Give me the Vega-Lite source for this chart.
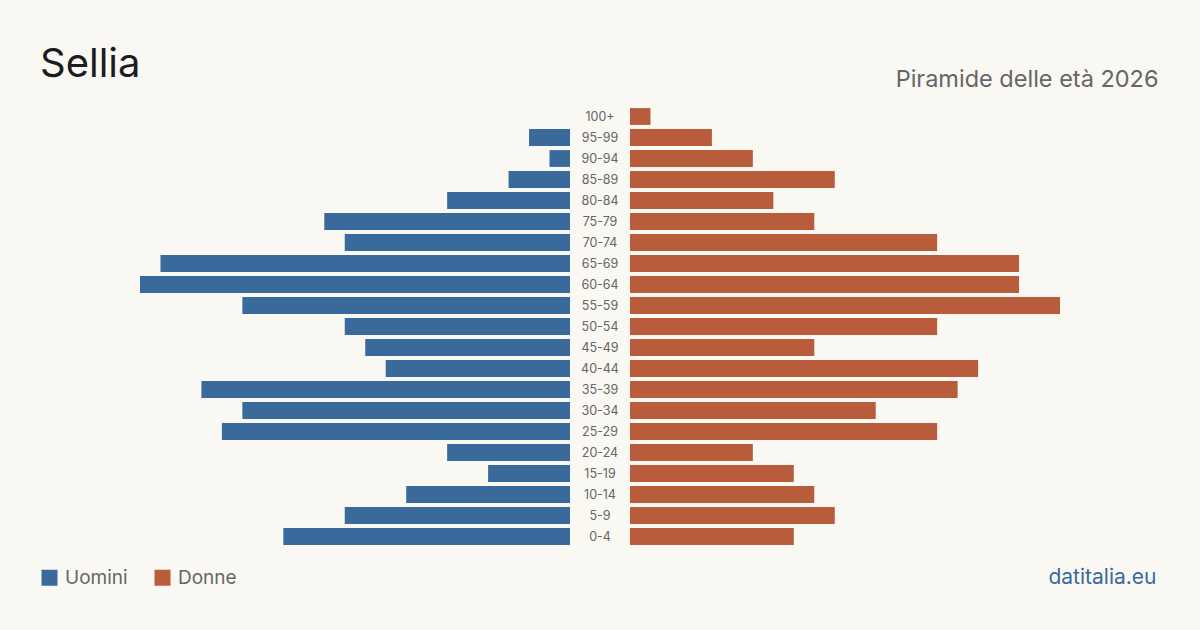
{
  "$schema": "https://vega.github.io/schema/vega-lite/v6.json",
  "autosize": {"type": "none"},
  "width": 920,
  "height": 441,
  "padding": {"left": 140, "right": 140, "top": 106, "bottom": 83},
  "background": "#f9f8f3",
  "config": {
    "view": {"stroke": null},
    "font": "Inter",
    "title": {"font": "Inter", "fontWeight": "normal"}
  },
  "title": {
    "text": "Sellia",
    "anchor": "start",
    "frame": "group",
    "fontSize": 40,
    "color": "#1c1c1c",
    "dx": -100,
    "dy": 50,
    "baseline": "alphabetic",
    "offset": 0
  },
  "data": {
    "values": [
      {"eta": "100+", "sesso": "Uomini", "valore": 0},
      {"eta": "95-99", "sesso": "Uomini", "valore": 2},
      {"eta": "90-94", "sesso": "Uomini", "valore": 1},
      {"eta": "85-89", "sesso": "Uomini", "valore": 3},
      {"eta": "80-84", "sesso": "Uomini", "valore": 6},
      {"eta": "75-79", "sesso": "Uomini", "valore": 12},
      {"eta": "70-74", "sesso": "Uomini", "valore": 11},
      {"eta": "65-69", "sesso": "Uomini", "valore": 20},
      {"eta": "60-64", "sesso": "Uomini", "valore": 21},
      {"eta": "55-59", "sesso": "Uomini", "valore": 16},
      {"eta": "50-54", "sesso": "Uomini", "valore": 11},
      {"eta": "45-49", "sesso": "Uomini", "valore": 10},
      {"eta": "40-44", "sesso": "Uomini", "valore": 9},
      {"eta": "35-39", "sesso": "Uomini", "valore": 18},
      {"eta": "30-34", "sesso": "Uomini", "valore": 16},
      {"eta": "25-29", "sesso": "Uomini", "valore": 17},
      {"eta": "20-24", "sesso": "Uomini", "valore": 6},
      {"eta": "15-19", "sesso": "Uomini", "valore": 4},
      {"eta": "10-14", "sesso": "Uomini", "valore": 8},
      {"eta": "5-9", "sesso": "Uomini", "valore": 11},
      {"eta": "0-4", "sesso": "Uomini", "valore": 14},
      {"eta": "100+", "sesso": "Donne", "valore": 1},
      {"eta": "95-99", "sesso": "Donne", "valore": 4},
      {"eta": "90-94", "sesso": "Donne", "valore": 6},
      {"eta": "85-89", "sesso": "Donne", "valore": 10},
      {"eta": "80-84", "sesso": "Donne", "valore": 7},
      {"eta": "75-79", "sesso": "Donne", "valore": 9},
      {"eta": "70-74", "sesso": "Donne", "valore": 15},
      {"eta": "65-69", "sesso": "Donne", "valore": 19},
      {"eta": "60-64", "sesso": "Donne", "valore": 19},
      {"eta": "55-59", "sesso": "Donne", "valore": 21},
      {"eta": "50-54", "sesso": "Donne", "valore": 15},
      {"eta": "45-49", "sesso": "Donne", "valore": 9},
      {"eta": "40-44", "sesso": "Donne", "valore": 17},
      {"eta": "35-39", "sesso": "Donne", "valore": 16},
      {"eta": "30-34", "sesso": "Donne", "valore": 12},
      {"eta": "25-29", "sesso": "Donne", "valore": 15},
      {"eta": "20-24", "sesso": "Donne", "valore": 6},
      {"eta": "15-19", "sesso": "Donne", "valore": 8},
      {"eta": "10-14", "sesso": "Donne", "valore": 9},
      {"eta": "5-9", "sesso": "Donne", "valore": 10},
      {"eta": "0-4", "sesso": "Donne", "valore": 8}
    ]
  },
  "encoding": {
    "y": {
      "field": "eta",
      "type": "nominal",
      "sort": ["100+", "95-99", "90-94", "85-89", "80-84", "75-79", "70-74", "65-69", "60-64", "55-59", "50-54", "45-49", "40-44", "35-39", "30-34", "25-29", "20-24", "15-19", "10-14", "5-9", "0-4"],
      "scale": {"paddingInner": 0.2, "paddingOuter": 0.1},
      "axis": null
    }
  },
  "layer": [
    {
      "transform": [{"filter": "datum.sesso === 'Uomini'"}],
      "mark": {"type": "bar"},
      "encoding": {
        "x": {
          "field": "valore",
          "type": "quantitative",
          "scale": {"domain": [-23.93, 21], "reverse": true, "nice": false, "zero": false},
          "axis": {
            "orient": "bottom",
            "labels": false,
            "ticks": false,
            "domain": false,
            "grid": false,
            "title": "datitalia.eu",
            "titleX": 1016,
            "titleY": 36,
            "titleAlign": "right",
            "titleBaseline": "alphabetic",
            "titleAnchor": null,
            "titleFont": "Inter",
            "titleFontSize": 21,
            "titleFontWeight": "normal",
            "titleColor": "#3a6a9e"
          }
        },
        "x2": {"datum": 0},
        "color": {
          "field": "sesso",
          "type": "nominal",
          "scale": {"domain": ["Uomini", "Donne"], "range": ["#3a6a9b", "#b85c3c"]},
          "legend": {
            "orient": "none",
            "legendX": -100,
            "legendY": 462,
            "direction": "horizontal",
            "title": null,
            "padding": 0,
            "symbolType": "square",
            "symbolSize": 256,
            "symbolStrokeWidth": 0,
            "symbolOpacity": 1,
            "labelFont": "Inter",
            "labelFontSize": 19,
            "labelColor": "#666666",
            "labelOffset": 6,
            "columnPadding": 25
          }
        }
      }
    },
    {
      "transform": [{"filter": "datum.sesso === 'Donne'"}],
      "mark": {"type": "bar"},
      "encoding": {
        "x": {
          "field": "valore",
          "type": "quantitative",
          "scale": {"domain": [-23.93, 21], "nice": false, "zero": false},
          "axis": {
            "orient": "top",
            "labels": false,
            "ticks": false,
            "domain": false,
            "grid": false,
            "title": "Piramide delle età 2026",
            "titleX": 1018,
            "titleY": -20,
            "titleAlign": "right",
            "titleBaseline": "alphabetic",
            "titleAnchor": null,
            "titleFont": "Inter",
            "titleFontSize": 23.5,
            "titleFontWeight": "normal",
            "titleColor": "#666666"
          }
        },
        "x2": {"datum": 0},
        "color": {"field": "sesso", "type": "nominal"}
      }
    },
    {
      "transform": [{"filter": "datum.sesso === 'Uomini'"}],
      "mark": {"type": "text", "fontSize": 12.5, "color": "#666666", "font": "Inter"},
      "encoding": {
        "text": {"field": "eta", "type": "nominal"}
      }
    }
  ],
  "resolve": {"scale": {"x": "independent"}, "axis": {"x": "independent"}}
}
